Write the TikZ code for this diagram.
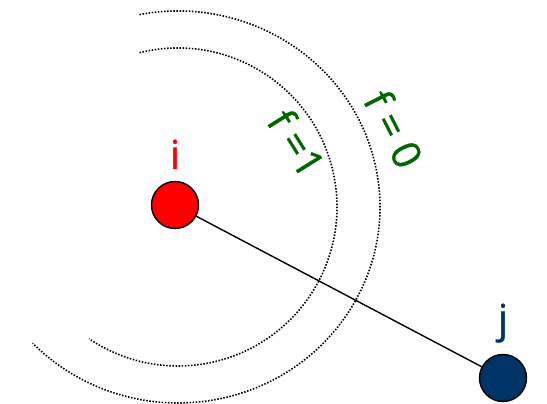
\documentclass[tikz,border=0pt]{standalone}
\usepackage{fontspec}
\setmainfont{Open Sans}
\newfontfamily\labfont{Open Sans}[FakeBold=0.8]
\usetikzlibrary{calc}
\definecolor{nodeRed}{RGB}{255,0,0}
\definecolor{nodeBlue}{RGB}{0,51,102}
\definecolor{labGreen}{RGB}{0,102,0}
\begin{document}
\begin{tikzpicture}[x=1pt,y=1pt,
  vertex/.style={circle,draw=black,line width=1.4pt,minimum size=47pt,inner sep=0pt},
  ring/.style={line width=1.6pt,dash pattern=on 1.5pt off 1.6pt},
  lab/.style={font=\labfont\fontsize{40}{40}\selectfont,inner sep=0pt},
  flab/.style={font=\labfont\fontsize{40}{40}\selectfont,text=labGreen,inner sep=0pt}]
\useasboundingbox (0,0) rectangle (547,404);
\coordinate (c) at (178,197);
\node[vertex,fill=nodeRed] (i) at (175,199) {};
\node[vertex,fill=nodeBlue] (j) at (503,26) {};
\draw[line width=1.4pt] (i) -- (j);
\draw[ring] ($(c)+(104:159)$) arc[start angle=104,end angle=-124,radius=159];
\draw[ring] ($(c)+(101:202 and 196)$) arc[start angle=101,end angle=-136,x radius=202,y radius=196];
\node[lab,text=nodeRed,anchor=base] (li) at (175,235) {i};
\node[lab,text=nodeBlue,anchor=base] (lj) at (503,71) {j};
\node[flab,rotate=-58] (f1) at (297,261) {f =1};
\node[flab,rotate=-63] (f0) at (394,275) {f = 0};
\end{tikzpicture}
\end{document}
